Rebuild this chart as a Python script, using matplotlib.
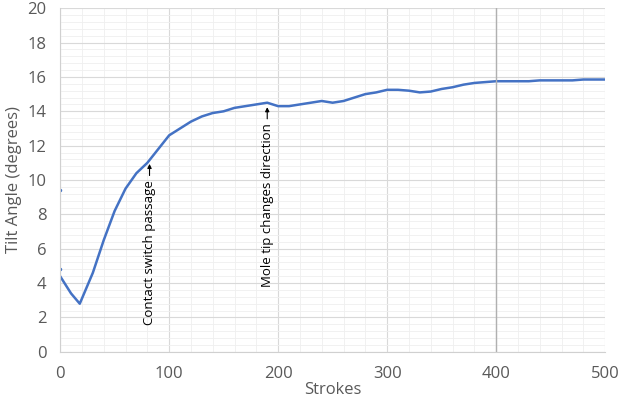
import numpy as np
import matplotlib.pyplot as plt
from matplotlib.ticker import MultipleLocator

plt.rcParams['font.family'] = ['Open Sans', 'DejaVu Sans']

strokes = [0, 10, 18, 30, 40, 50, 60, 70, 80, 90, 100, 110, 120, 130, 140, 150, 160, 170,
           180, 190, 200, 210, 220, 230, 240, 250, 260, 270, 280, 290, 300, 310, 320, 330,
           340, 350, 360, 370, 380, 390, 400, 410, 420, 430, 440, 450, 460, 470, 480, 490, 500]
tilt = [4.4, 3.4, 2.8, 4.6, 6.5, 8.2, 9.5, 10.4, 11.0, 11.8, 12.6, 13.0, 13.4, 13.7, 13.9,
        14.0, 14.2, 14.3, 14.4, 14.5, 14.3, 14.3, 14.4, 14.5, 14.6, 14.5, 14.6, 14.8, 15.0,
        15.1, 15.25, 15.25, 15.2, 15.1, 15.15, 15.3, 15.4, 15.55, 15.65, 15.7, 15.75, 15.75,
        15.75, 15.75, 15.8, 15.8, 15.8, 15.8, 15.85, 15.85, 15.85]
outlier_x = [0, 0]
outlier_y = [9.4, 4.8]

grey = '#595959'
fig = plt.figure(figsize=(6.2, 4.11), dpi=100)
ax = fig.add_axes([0.097, 0.144, 0.879, 0.836])
ax.plot(strokes, tilt, color='#4472c4', lw=1.8)
ax.plot(outlier_x, outlier_y, '.', color='#4472c4', ms=3)

ax.set_xlim(0, 500)
ax.set_ylim(0, 20)
ax.xaxis.set_major_locator(MultipleLocator(100))
ax.xaxis.set_minor_locator(MultipleLocator(20))
ax.yaxis.set_major_locator(MultipleLocator(2))
ax.yaxis.set_minor_locator(MultipleLocator(0.4))
ax.grid(which='major', color='#d9d9d9', lw=0.8)
ax.grid(which='minor', color='#efefef', lw=0.6)
ax.axvline(400, color='#b0b0b0', lw=1)
ax.set_axisbelow(True)
for s in ['top', 'right']:
    ax.spines[s].set_visible(False)
for s in ['left', 'bottom']:
    ax.spines[s].set_color('#d0d0d0')
ax.tick_params(which='both', length=0, colors=grey, labelsize=12, pad=10)
ax.set_xlabel('Strokes', color=grey, fontsize=12, labelpad=0)
ax.set_ylabel('Tilt Angle (degrees)', color=grey, fontsize=12, labelpad=4)

ax.annotate('', xy=(82, 11.1), xytext=(82, 10.1),
            arrowprops=dict(arrowstyle='-|>', color='black', lw=0.8, mutation_scale=6))
ax.text(82, 10.0, 'Contact switch passage', rotation=90, ha='center', va='top', fontsize=9.5)
ax.annotate('', xy=(190, 14.4), xytext=(190, 13.4),
            arrowprops=dict(arrowstyle='-|>', color='black', lw=0.8, mutation_scale=6))
ax.text(190, 13.3, 'Mole tip changes direction', rotation=90, ha='center', va='top', fontsize=9.5)

fig.savefig('out.png')
